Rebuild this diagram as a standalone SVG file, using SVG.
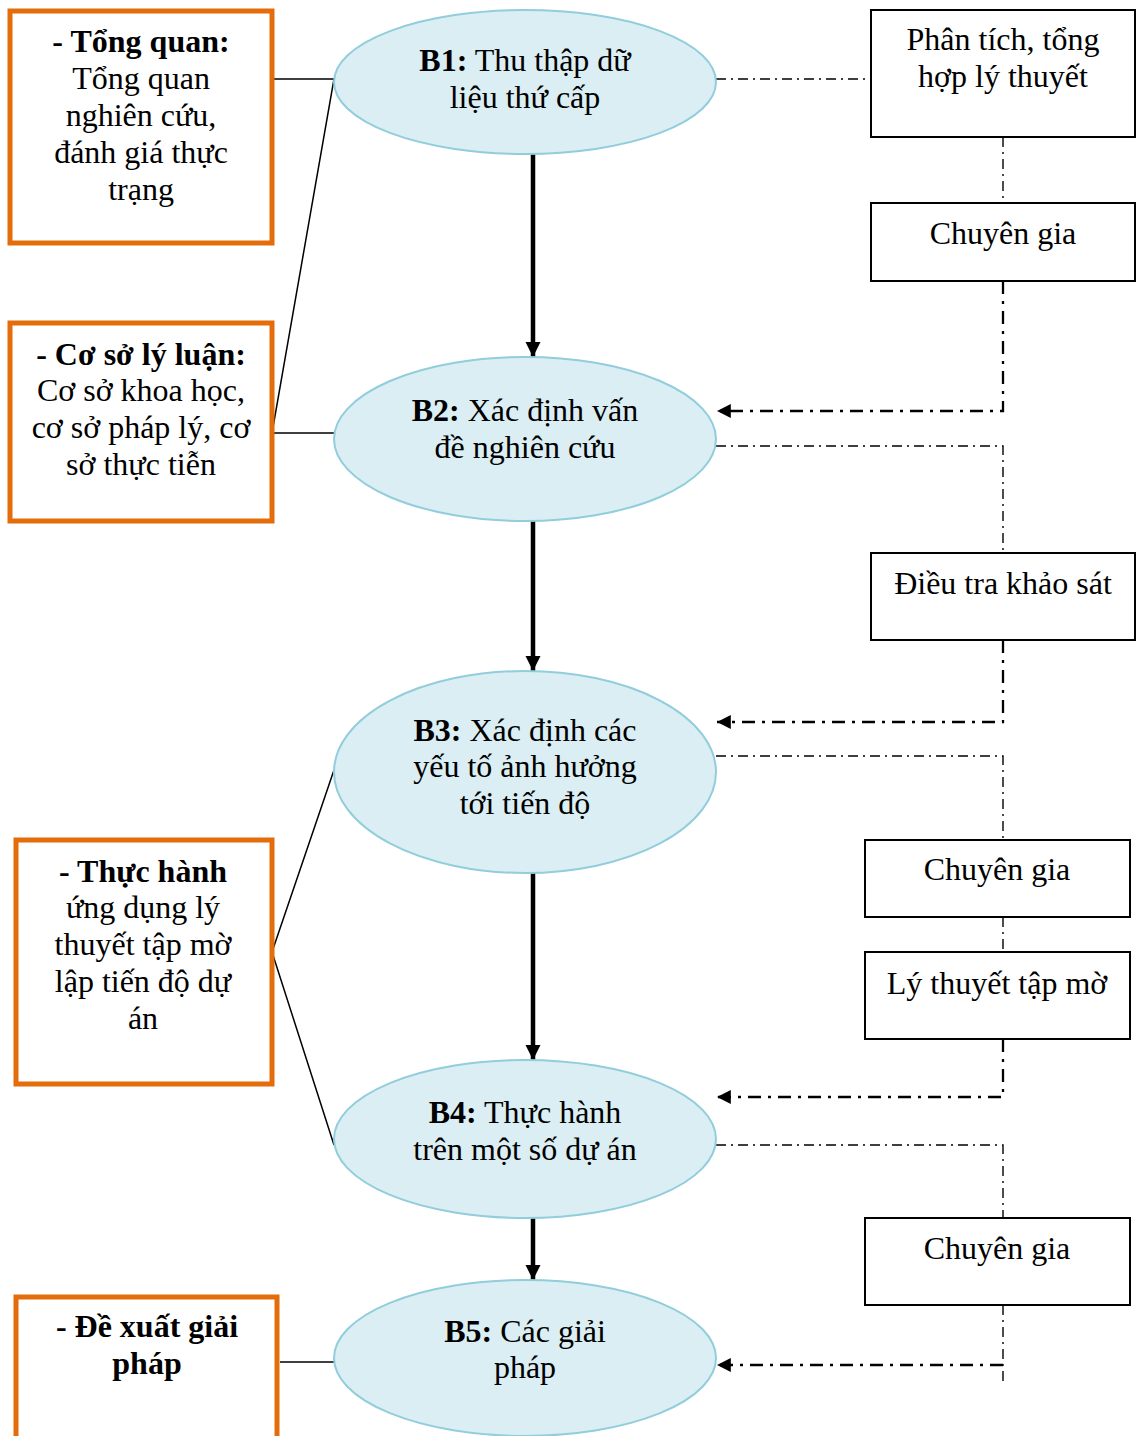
<svg xmlns="http://www.w3.org/2000/svg" width="1136" height="1436" viewBox="0 0 1136 1436">
<style>
text{font-family:"Liberation Serif","Times New Roman",serif;font-size:32px;fill:#000;text-anchor:middle}
.b{font-weight:bold}
.ob{fill:#fff;stroke:#E46C0A;stroke-width:5}
.el{fill:#DAEEF3;stroke:#92CDDC;stroke-width:2}
.rb{fill:#fff;stroke:#000;stroke-width:2}
.ln{fill:none;stroke:#000;stroke-width:1.5}
.thick{fill:none;stroke:#000;stroke-width:4.5}
.dd{fill:none;stroke:#000;stroke-width:1.4;stroke-dasharray:10 5 2 5}
.da{fill:none;stroke:#000;stroke-width:2.3;stroke-dasharray:13 7 3 7}
</style>
<defs>
<marker id="ah" viewBox="0 0 10 10" refX="10" refY="5" markerWidth="3.4" markerHeight="3.6" orient="auto" markerUnits="strokeWidth"><path d="M0,0 L10,5 L0,10 z" fill="#000"/></marker>
<marker id="ah2" viewBox="0 0 10 10" refX="10" refY="5" markerWidth="6.5" markerHeight="6" orient="auto" markerUnits="strokeWidth"><path d="M0,0 L10,5 L0,10 z" fill="#000"/></marker>
</defs>
<rect width="1136" height="1436" fill="#fff"/>
<g id="connectors">
<path class="ln" d="M274,79 H334 L272,433 H334"/>
<path class="ln" d="M334,770 L272,952 L334,1145"/>
<path class="ln" d="M280,1362 H334"/>
<path class="thick" d="M533,154 V357" marker-end="url(#ah)"/>
<path class="thick" d="M533,521 V671" marker-end="url(#ah)"/>
<path class="thick" d="M533,873 V1060" marker-end="url(#ah)"/>
<path class="thick" d="M533,1218 V1280" marker-end="url(#ah)"/>
<path class="dd" d="M716,79 H871"/>
<path class="dd" d="M1003,137 V203"/>
<path class="da" d="M1003,281 V411 H717" marker-end="url(#ah2)"/>
<path class="dd" d="M716,446 H1003 V553"/>
<path class="da" d="M1003,640 V722 H717" marker-end="url(#ah2)"/>
<path class="dd" d="M716,756 H1003 V840"/>
<path class="dd" d="M1003,917 V952"/>
<path class="da" d="M1003,1039 V1097 H717" marker-end="url(#ah2)"/>
<path class="dd" d="M716,1145 H1003 V1218"/>
<path class="dd" d="M1003,1305 V1385"/>
<path class="da" d="M1003,1365 H717" marker-end="url(#ah2)"/>
</g>
<g id="box-tongquan">
<rect class="ob" x="10" y="11" width="262" height="232"/>
<text x="141" y="52" class="b">- Tổng quan:</text>
<text x="141" y="89">Tổng quan</text>
<text x="141" y="126">nghiên cứu,</text>
<text x="141" y="163">đánh giá thực</text>
<text x="141" y="200">trạng</text>
</g>
<g id="box-cosolyluan">
<rect class="ob" x="10" y="323" width="262" height="198"/>
<text x="141" y="365" class="b">- Cơ sở lý luận:</text>
<text x="141" y="401">Cơ sở khoa học,</text>
<text x="141" y="438">cơ sở pháp lý, cơ</text>
<text x="141" y="475">sở thực tiễn</text>
</g>
<g id="box-thuchanh">
<rect class="ob" x="16" y="840" width="256" height="244"/>
<text x="143" y="882" class="b">- Thực hành</text>
<text x="143" y="918">ứng dụng lý</text>
<text x="143" y="955">thuyết tập mờ</text>
<text x="143" y="992">lập tiến độ dự</text>
<text x="143" y="1029">án</text>
</g>
<g id="box-dexuat">
<rect class="ob" x="16" y="1297" width="261" height="160"/>
<text x="147" y="1337" class="b">- Đề xuất giải</text>
<text x="147" y="1374" class="b">pháp</text>
</g>
<g id="B1">
<ellipse class="el" cx="525" cy="82" rx="191" ry="72"/>
<text x="525" y="71"><tspan class="b">B1:</tspan> Thu thập dữ</text>
<text x="525" y="108">liệu thứ cấp</text>
</g>
<g id="B2">
<ellipse class="el" cx="525" cy="439" rx="191" ry="82"/>
<text x="525" y="421"><tspan class="b">B2:</tspan> Xác định vấn</text>
<text x="525" y="458">đề nghiên cứu</text>
</g>
<g id="B3">
<ellipse class="el" cx="525" cy="772" rx="191" ry="101"/>
<text x="525" y="741"><tspan class="b">B3:</tspan> Xác định các</text>
<text x="525" y="777">yếu tố ảnh hưởng</text>
<text x="525" y="814">tới tiến độ</text>
</g>
<g id="B4">
<ellipse class="el" cx="525" cy="1139" rx="191" ry="79"/>
<text x="525" y="1123"><tspan class="b">B4:</tspan> Thực hành</text>
<text x="525" y="1160">trên một số dự án</text>
</g>
<g id="B5">
<ellipse class="el" cx="525" cy="1358" rx="191" ry="78"/>
<text x="525" y="1342"><tspan class="b">B5:</tspan> Các giải</text>
<text x="525" y="1378">pháp</text>
</g>
<g id="R1">
<rect class="rb" x="871" y="10" width="264" height="127"/>
<text x="1003" y="50">Phân tích, tổng</text>
<text x="1003" y="87">hợp lý thuyết</text>
</g>
<g id="R2">
<rect class="rb" x="871" y="203" width="264" height="78"/>
<text x="1003" y="244">Chuyên gia</text>
</g>
<g id="R3">
<rect class="rb" x="871" y="553" width="264" height="87"/>
<text x="1003" y="594">Điều tra khảo sát</text>
</g>
<g id="R4">
<rect class="rb" x="865" y="840" width="265" height="77"/>
<text x="997" y="880">Chuyên gia</text>
</g>
<g id="R5">
<rect class="rb" x="865" y="952" width="265" height="87"/>
<text x="997" y="994">Lý thuyết tập mờ</text>
</g>
<g id="R6">
<rect class="rb" x="865" y="1218" width="265" height="87"/>
<text x="997" y="1259">Chuyên gia</text>
</g>
</svg>
